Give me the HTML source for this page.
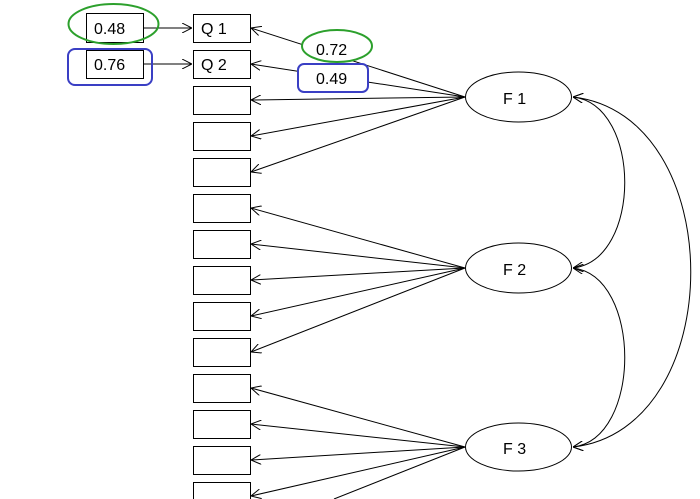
<!DOCTYPE html>
<html><head><style>html,body{margin:0;background:#fff;overflow:hidden;width:700px;height:499px}svg{display:block}text{font-family:"Liberation Sans",Arial,sans-serif;font-size:16px;fill:#000}</style></head>
<body>
<svg width="700" height="499" viewBox="0 0 700 499" xmlns="http://www.w3.org/2000/svg">
<defs><marker id="a" viewBox="0 0 10 10" refX="10" refY="5" markerWidth="10" markerHeight="10" markerUnits="userSpaceOnUse" orient="auto-start-reverse"><path d="M0,0 L10,5 L0,10" fill="none" stroke="#000" stroke-width="1"/></marker></defs>
<g stroke="#000" stroke-width="1" fill="none" marker-end="url(#a)">
<line x1="143" y1="28" x2="192" y2="28"/>
<line x1="143" y1="64" x2="192" y2="64"/>
<line x1="465" y1="97" x2="251" y2="28"/>
<line x1="465" y1="97" x2="251" y2="64"/>
<line x1="465" y1="97" x2="251" y2="100"/>
<line x1="465" y1="97" x2="251" y2="136"/>
<line x1="465" y1="97" x2="251" y2="172"/>
<line x1="465" y1="268" x2="251" y2="208"/>
<line x1="465" y1="268" x2="251" y2="244"/>
<line x1="465" y1="268" x2="251" y2="280"/>
<line x1="465" y1="268" x2="251" y2="316"/>
<line x1="465" y1="268" x2="251" y2="352"/>
<line x1="465" y1="447" x2="251" y2="388"/>
<line x1="465" y1="447" x2="251" y2="424"/>
<line x1="465" y1="447" x2="251" y2="460"/>
<line x1="465" y1="447" x2="251" y2="496"/>
</g>
<line x1="465" y1="447" x2="334" y2="499" stroke="#000" stroke-width="1"/>
<g stroke="#000" stroke-width="1" fill="none" marker-start="url(#a)" marker-end="url(#a)">
<path d="M573,97 C642,105 642,260 573,268"/>
<path d="M573,268 C642,276 642,439 573,447"/>
<path d="M573,97 C730,115 730,429 573,447"/>
</g>
<g fill="#fff" stroke="#000" stroke-width="1">
<rect x="193.5" y="14.5" width="57" height="28"/>
<rect x="193.5" y="50.5" width="57" height="28"/>
<rect x="193.5" y="86.5" width="57" height="28"/>
<rect x="193.5" y="122.5" width="57" height="28"/>
<rect x="193.5" y="158.5" width="57" height="28"/>
<rect x="193.5" y="194.5" width="57" height="28"/>
<rect x="193.5" y="230.5" width="57" height="28"/>
<rect x="193.5" y="266.5" width="57" height="28"/>
<rect x="193.5" y="302.5" width="57" height="28"/>
<rect x="193.5" y="338.5" width="57" height="28"/>
<rect x="193.5" y="374.5" width="57" height="28"/>
<rect x="193.5" y="410.5" width="57" height="28"/>
<rect x="193.5" y="446.5" width="57" height="28"/>
<path d="M193.5,499 V482.5 H250.5 V499"/>
<rect x="86.5" y="13.5" width="57" height="29"/>
<rect x="86.5" y="50.5" width="57" height="28"/>
<ellipse cx="518.5" cy="97" rx="53" ry="25"/>
<ellipse cx="518.5" cy="268" rx="53" ry="25"/>
<ellipse cx="518.5" cy="447" rx="53" ry="24"/>
</g>
<g fill="none" stroke-width="2">
<ellipse cx="113.5" cy="24" rx="45" ry="20" stroke="#2ca02c"/>
<rect x="68" y="49" width="84" height="36" rx="7" stroke="#3a3fc4"/>
</g>
<g stroke-width="2" fill="#fff">
<ellipse cx="337" cy="46" rx="35" ry="16" stroke="#2ca02c"/>
<rect x="298" y="64" width="70" height="28" rx="6" stroke="#3a3fc4"/>
</g>
<g>
<text x="94" y="34">0.48</text>
<text x="94" y="70">0.76</text>
<text x="201" y="34">Q 1</text>
<text x="201" y="70">Q 2</text>
<text x="316" y="55">0.72</text>
<text x="316" y="84">0.49</text>
<text x="503" y="104" font-size="19">F 1</text>
<text x="503" y="275" font-size="19">F 2</text>
<text x="503" y="454" font-size="19">F 3</text>
</g>
</svg>
</body></html>
